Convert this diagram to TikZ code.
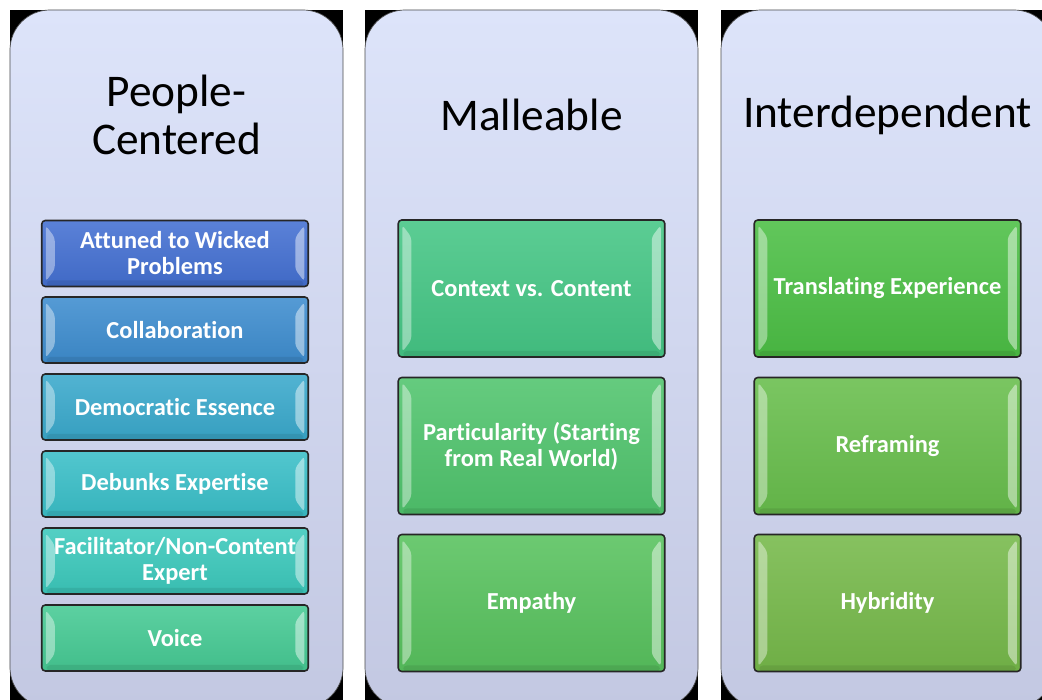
\documentclass[tikz,border=0pt]{standalone}
\usepackage{fontspec}
\setmainfont{Carlito}[Ligatures=NoCommon]
\usepackage{tikz}
\usetikzlibrary{shapes, positioning, calc}

\definecolor{panelTop}{HTML}{DDE4FA}
\definecolor{panelBot}{HTML}{C3C8E2}
\definecolor{pcA}{HTML}{4470D2}
\definecolor{pcB}{HTML}{3E8DCF}
\definecolor{pcC}{HTML}{3AA9CC}
\definecolor{pcD}{HTML}{3ABFC8}
\definecolor{pcE}{HTML}{3CC9BC}
\definecolor{pcF}{HTML}{46CA94}
\definecolor{mlA}{HTML}{45C685}
\definecolor{mlB}{HTML}{50C46D}
\definecolor{mlC}{HTML}{58C25E}
\definecolor{idA}{HTML}{4CBF45}
\definecolor{idB}{HTML}{68BE4C}
\definecolor{idC}{HTML}{76B94A}

\begin{document}
\begin{tikzpicture}[
      panel/.style={draw=black!70, top color=panelTop, bottom color=panelBot,
                    rounded corners=0.8cm, minimum width=6.66cm,
                    minimum height=13.95cm, inner sep=0pt},
      head/.style={font=\fontsize{25.8}{27}\selectfont, align=center,
                   text=black},
      bevel/.style={path picture={
          \coordinate (bnw) at (path picture bounding box.north west);
          \coordinate (bne) at (path picture bounding box.north east);
          \coordinate (bsw) at (path picture bounding box.south west);
          \coordinate (bse) at (path picture bounding box.south east);
          \fill[white, opacity=0.4] ([shift={(0.08,-0.1)}]bnw)
            -- ([shift={(0.26,-0.34)}]bnw) -- ([shift={(0.26,0.34)}]bsw)
            -- ([shift={(0.08,0.1)}]bsw) -- cycle;
          \fill[white, opacity=0.45] ([shift={(-0.08,-0.1)}]bne)
            -- ([shift={(-0.26,-0.34)}]bne) -- ([shift={(-0.26,0.34)}]bse)
            -- ([shift={(-0.08,0.1)}]bse) -- cycle;
          \fill[black, opacity=0.08] ([shift={(0.1,0.12)}]bsw)
            rectangle ([shift={(-0.1,0)}]bse);
        }},
      tile/.style={draw=black!85, line width=0.9pt, rounded corners=2pt,
                   top color=#1!88!white, bottom color=#1!94!black,
                   text=white, font=\fontsize{13.9}{14.8}\selectfont\bfseries,
                   align=center, minimum width=5.33cm, bevel},
      short/.style={minimum height=1.32cm},
      tall/.style={minimum height=2.74cm}
    ]
      \useasboundingbox (0,0) rectangle (20.84,14);
      \clip (0,0) rectangle (20.84,14);
      \fill[white] (0,0) rectangle (20.84,14);

      % panels on black corners
      \foreach \x in {0.2,7.3,14.42}
        \fill[black] (\x,-0.15) rectangle ++(6.66,13.95);
      \node[panel] (pc) at (3.53,6.825) {};
      \node[panel] (ml) at (10.63,6.825) {};
      \node[panel] (id) at (17.75,6.825) {};

      \node[head] (pcHead) at (3.53,11.7) {People-\\Centered};
      \node[head] (mlHead) at (10.63,11.7) {Malleable};
      \node[head] (idHead) at (17.75,11.7) {Interdependent};

      \node[tile=pcA, short] (pc1) at (3.5,8.93) {Attuned to Wicked\\Problems};
      \node[tile=pcB, short] (pc2) at (3.5,7.40) {Collaboration};
      \node[tile=pcC, short] (pc3) at (3.5,5.86) {Democratic Essence};
      \node[tile=pcD, short] (pc4) at (3.5,4.32) {Debunks Expertise};
      \node[tile=pcE, short] (pc5) at (3.5,2.78) {Facilitator/Non-Content\\Expert};
      \node[tile=pcF, short] (pc6) at (3.5,1.24) {Voice};

      \node[tile=mlA, tall] (ml1) at (10.63,8.23) {Context vs. Content};
      \node[tile=mlB, tall] (ml2) at (10.63,5.08) {Particularity (Starting\\from Real World)};
      \node[tile=mlC, tall] (ml3) at (10.63,1.94) {Empathy};

      \node[tile=idA, tall] (id1) at (17.75,8.23) {Translating Experience};
      \node[tile=idB, tall] (id2) at (17.75,5.08) {Reframing};
      \node[tile=idC, tall] (id3) at (17.75,1.94) {Hybridity};
    \end{tikzpicture}
\end{document}
